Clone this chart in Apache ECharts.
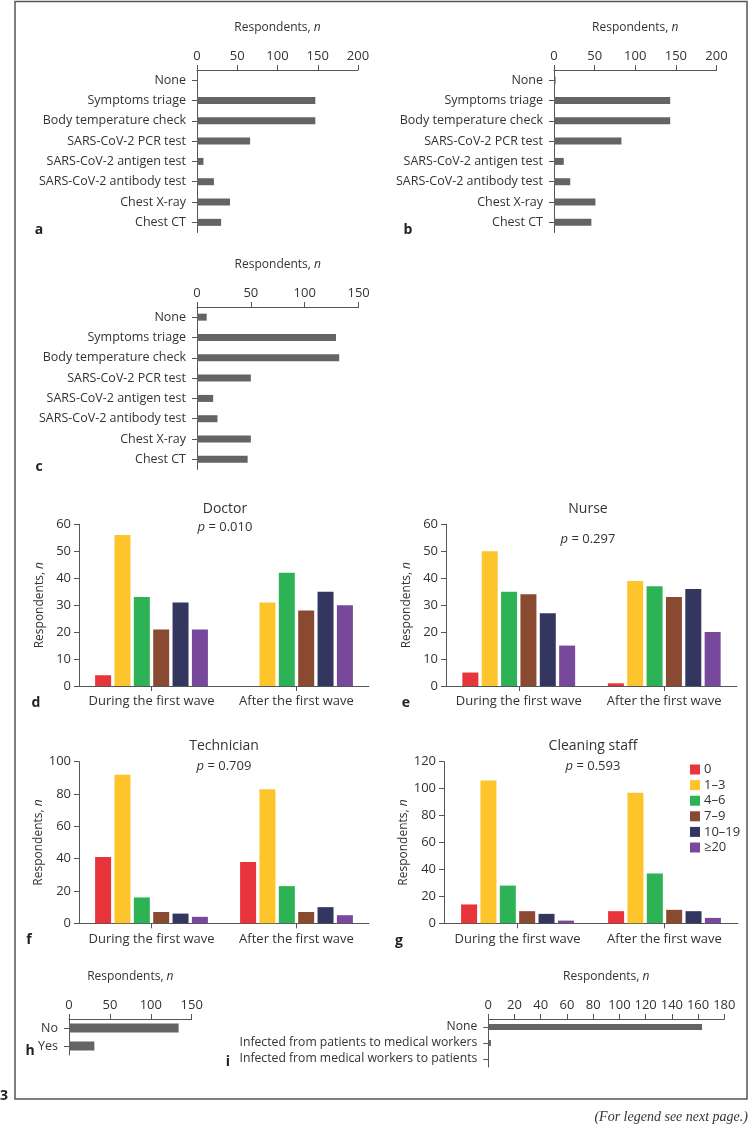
<!DOCTYPE html>
<html><head><meta charset="utf-8">
<script src="https://cdn.jsdelivr.net/npm/echarts@6/dist/echarts.min.js"></script>
<style>html,body{margin:0;padding:0;background:#fff}#c{width:750px;height:1126px}</style>
</head><body><div id="c"></div>
<script>
// ---- data ----
const catsTests = ['None','Symptoms triage','Body temperature check','SARS-CoV-2 PCR test','SARS-CoV-2 antigen test','SARS-CoV-2 antibody test','Chest X-ray','Chest CT'];
const valuesA = [1,147,147,66,8,21,41,30];
const valuesB = [2,143,143,83,12,20,51,46];
const valuesC = [9,129,132,50,15,19,50,47];
const waves = ['During the first wave','After the first wave'];
const groups = ['0','1–3','4–6','7–9','10–19','≥20'];
const doctorDuring = [4,56,33,21,31,21];
const doctorAfter  = [0,31,42,28,35,30];
const nurseDuring  = [5,50,35,34,27,15];
const nurseAfter   = [1,39,37,33,36,20];
const techDuring   = [41,92,16,7,6,4];
const techAfter    = [38,83,23,7,10,5];
const cleanDuring  = [14,106,28,9,7,2];
const cleanAfter   = [9,97,37,10,9,4];
const catsH = ['No','Yes'];
const valuesH = [134,31];
const catsI = ['None','Infected from patients to medical workers','Infected from medical workers to patients'];
const valuesI = [163,2,0];

// ---- styles ----
const FONT = '"Open Sans", "Noto Sans", sans-serif';
const TXT = '#333';
const AX = '#555';
const GRAY = '#646464';
const FS = 13;
const FSC = 12.5;
const groupColors = ['#e8353b','#fdc42b','#2db255','#8a4a31','#33375f','#77489b'];

const grids = [], xAxes = [], yAxes = [], series = [];
const nameRich = {i:{fontStyle:'italic', fontFamily:FONT, fontSize:12, color:TXT}};

function hPanel(pos, cats, vals, max, interval, barW, catFs){
  const gi = grids.length;
  grids.push(Object.assign({containLabel:false}, pos));
  xAxes.push({gridIndex:gi, type:'value', position:'top', min:0, max:max, interval:interval,
    name:'Respondents, {i|n}', nameLocation:'middle', nameGap:36,
    nameTextStyle:{fontFamily:FONT, fontSize:12, color:TXT, rich:nameRich},
    axisLine:{show:true, lineStyle:{color:AX, width:1}},
    axisTick:{show:true, length:5, lineStyle:{color:AX}},
    axisLabel:{fontFamily:FONT, fontSize:FS, color:TXT, margin:7},
    splitLine:{show:false}});
  yAxes.push({gridIndex:gi, type:'category', data:cats, inverse:true,
    axisLine:{show:true, lineStyle:{color:AX, width:1}},
    axisTick:{show:true, alignWithLabel:true, length:5, lineStyle:{color:AX}},
    axisLabel:{fontFamily:FONT, fontSize:catFs || FSC, color:TXT, margin:11, interval:0},
    splitLine:{show:false}});
  series.push({type:'bar', xAxisIndex:gi, yAxisIndex:gi, data:vals, barWidth:barW,
    itemStyle:{color:GRAY}, silent:true});
}

function vPanel(pos, during, after, max, interval){
  const gi = grids.length;
  grids.push(Object.assign({containLabel:false}, pos));
  xAxes.push({gridIndex:gi, type:'category', data:waves,
    axisLine:{show:true, lineStyle:{color:AX, width:1}},
    axisTick:{show:true, alignWithLabel:true, length:5, lineStyle:{color:AX}},
    axisLabel:{fontFamily:FONT, fontSize:FS, color:TXT, margin:9, interval:0}});
  yAxes.push({gridIndex:gi, type:'value', min:0, max:max, interval:interval,
    name:'Respondents, {i|n}', nameLocation:'middle', nameGap:33, nameRotate:90,
    nameTextStyle:{fontFamily:FONT, fontSize:12, color:TXT, rich:nameRich},
    axisLine:{show:true, lineStyle:{color:AX, width:1}},
    axisTick:{show:true, length:5, lineStyle:{color:AX}},
    axisLabel:{fontFamily:FONT, fontSize:FS, color:TXT, margin:8},
    splitLine:{show:false}});
  groups.forEach((g,k)=>{
    series.push({type:'bar', name:g, xAxisIndex:gi, yAxisIndex:gi,
      data:[during[k], after[k]], barWidth:16, barGap:'21%',
      itemStyle:{color:groupColors[k]}, silent:true});
  });
}

hPanel({left:197, top:70, width:161, height:162.5}, catsTests, valuesA, 200, 50, 7);
hPanel({left:554, top:70, width:162.5, height:162.5}, catsTests, valuesB, 200, 50, 7);
hPanel({left:197, top:307, width:161.6, height:162.5}, catsTests, valuesC, 150, 50, 7);
vPanel({left:79, top:524.3, width:290, height:161.7}, doctorDuring, doctorAfter, 60, 10);
vPanel({left:446, top:524.3, width:291, height:161.7}, nurseDuring, nurseAfter, 60, 10);
vPanel({left:79, top:761.7, width:290, height:161.6}, techDuring, techAfter, 100, 20);
vPanel({left:444, top:761.7, width:294, height:161.6}, cleanDuring, cleanAfter, 120, 20);
hPanel({left:69, top:1019, width:122.7, height:36}, catsH, valuesH, 150, 50, 9);
hPanel({left:488.3, top:1019, width:236, height:48}, catsI, valuesI, 180, 20, 6, 12.2);

function txt(x, y, text, opts){
  return {type:'text', x:x, y:y, silent:true, style:Object.assign({text:text, x:0, y:0,
    font:'13px ' + FONT, fill:TXT, textAlign:'center', textVerticalAlign:'middle'}, opts||{})};
}
const pRich = {i:{fontStyle:'italic', fontFamily:FONT, fontSize:13, fill:TXT, color:TXT}, t:{fontFamily:FONT, fontSize:13, fill:TXT, color:TXT}};
function ptxt(x, y, val){
  return {type:'text', x:x, y:y, silent:true, style:{text:'{i|p}{t| = ' + val + '}', rich:pRich,
    textAlign:'center', textVerticalAlign:'middle', fill:TXT, font:'13px ' + FONT}};
}
const bold = {font:'bold 14px ' + FONT, fill:'#222'};
const graphic = [
  {type:'rect', shape:{x:15, y:1.5, width:732, height:1097.5}, style:{fill:'none', stroke:'#555', lineWidth:1.5}, silent:true},
  txt(225, 509, 'Doctor', {font:'14px ' + FONT}), ptxt(225, 527.5, '0.010'),
  txt(588, 509, 'Nurse', {font:'14px ' + FONT}), ptxt(588, 539, '0.297'),
  txt(224, 745.7, 'Technician', {font:'14px ' + FONT}), ptxt(224, 766.7, '0.709'),
  txt(593, 745.7, 'Cleaning staff', {font:'14px ' + FONT}), ptxt(593, 766.7, '0.593'),
  txt(39, 230, 'a', bold), txt(408, 230, 'b', bold), txt(39, 467, 'c', bold),
  txt(36, 703, 'd', bold), txt(406, 703, 'e', bold),
  txt(29, 940, 'f', bold), txt(399, 941, 'g', bold),
  txt(30, 1051, 'h', bold), txt(228, 1062, 'i', bold),
  txt(4, 1096, '3', {font:'bold 14px ' + FONT, fill:'#222'}),
  txt(748, 1117, '(For legend see next page.)', {font:'italic 14px "Liberation Serif", serif', textAlign:'right', fill:'#333'})
];

const chart = echarts.init(document.getElementById('c'), null, {renderer:'canvas'});
chart.setOption({
  animation:false,
  textStyle:{fontFamily:FONT},
  grid:grids, xAxis:xAxes, yAxis:yAxes, series:series,
  legend:{data:groups, orient:'vertical', left:690, top:763, itemWidth:10, itemHeight:10, itemGap:2.6,
    icon:'rect', selectedMode:false, textStyle:{fontFamily:FONT, fontSize:13, color:TXT, padding:[0,0,0,-1]}, padding:0},
  graphic:graphic
});
</script>
</body></html>
